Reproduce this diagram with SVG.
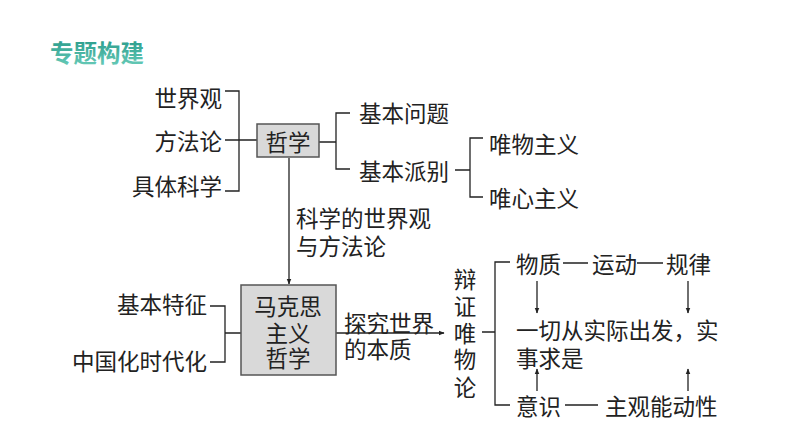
<svg xmlns="http://www.w3.org/2000/svg" width="794" height="447" viewBox="0 0 794 447">
<defs>
<linearGradient id="tg" x1="0" y1="0" x2="0" y2="1">
<stop offset="0" stop-color="#1f9484"/>
<stop offset="1" stop-color="#6fd0bd"/>
</linearGradient>
<marker id="ah" viewBox="0 0 10 10" refX="9" refY="5" markerWidth="6" markerHeight="6" orient="auto" markerUnits="userSpaceOnUse">
<path d="M0,1 L10,5 L0,9 z" fill="#222"/>
</marker>
</defs>
<style>
text{font-family:"Noto Sans CJK SC","Noto Sans",sans-serif;font-size:22.5px;fill:#222;dominant-baseline:central}
.r{text-anchor:end}
.m{text-anchor:middle}
.ln{stroke:#222;stroke-width:1.3;fill:none}
.box{fill:#d9d9d9;stroke:#555;stroke-width:1.5}
.title{font-size:23.5px;font-weight:bold;fill:url(#tg)}
</style>
<rect width="794" height="447" fill="#fff"/>
<text class="title" x="50" y="52">专题构建</text>

<g id="connectors">
<path class="ln" d="M225,91 H239 V191 H225 M225,140 H257"/>
<path class="ln" d="M319,142 H336 M350,113 H336 V169 H350"/>
<path class="ln" d="M455,170 H470 M483,138 H470 V197 H483"/>
<path class="ln" d="M289,158 V284" marker-end="url(#ah)"/>
<path class="ln" d="M210,306 H225 V362 H210 M225,333 H241"/>
<path class="ln" d="M336,333 H444" marker-end="url(#ah)"/>
<path class="ln" d="M482,332 H495 M510,262 H495 V405 H510"/>
<path class="ln" d="M563,263 H588 M637,263 H663 M565,405 H598" stroke="#444"/>
<path class="ln" d="M537,281 V313" marker-end="url(#ah)"/>
<path class="ln" d="M688,281 V313" marker-end="url(#ah)"/>
<path class="ln" d="M537,391 V369" marker-end="url(#ah)"/>
<path class="ln" d="M688,391 V369" marker-end="url(#ah)"/>
</g>

<g id="n-shijieguan"><text class="r" x="222" y="97">世界观</text></g>
<g id="n-fangfalun"><text class="r" x="222" y="140">方法论</text></g>
<g id="n-jutikexue"><text class="r" x="222" y="185">具体科学</text></g>

<g id="n-zhexue">
<rect class="box" x="257" y="124" width="62" height="33"/>
<text class="m" x="288" y="141">哲学</text>
</g>

<g id="n-jibenwenti"><text x="359" y="112">基本问题</text></g>
<g id="n-jibenpaibie"><text x="359" y="170">基本派别</text></g>
<g id="n-weiwu"><text x="489" y="143">唯物主义</text></g>
<g id="n-weixin"><text x="489" y="197">唯心主义</text></g>

<g id="l-kexue">
<text x="296" y="217">科学的世界观</text>
<text x="296" y="245">与方法论</text>
</g>

<g id="n-makesi">
<rect class="box" x="241" y="285" width="95" height="90"/>
<text class="m" x="288" y="305">马克思</text>
<text class="m" x="288" y="332">主义</text>
<text class="m" x="288" y="357">哲学</text>
</g>

<g id="n-jibentezheng"><text class="r" x="207" y="303">基本特征</text></g>
<g id="n-zhongguohua"><text class="r" x="207" y="360">中国化时代化</text></g>

<g id="l-tanjiu">
<text x="344" y="322">探究世界</text>
<text x="344" y="348">的本质</text>
</g>

<g id="n-bianzheng">
<text class="m" x="465" y="278">辩</text>
<text class="m" x="465" y="305">证</text>
<text class="m" x="465" y="332">唯</text>
<text class="m" x="465" y="358">物</text>
<text class="m" x="465" y="386">论</text>
</g>

<g id="n-wuzhi"><text x="516" y="263">物质</text></g>
<g id="n-yundong"><text x="592" y="263">运动</text></g>
<g id="n-guilv"><text x="666" y="263">规律</text></g>
<g id="n-yiqie">
<text x="516" y="329">一切从实际出发，实</text>
<text x="516" y="357">事求是</text>
</g>
<g id="n-yishi"><text x="516" y="405">意识</text></g>
<g id="n-zhuguan"><text x="605" y="405">主观能动性</text></g>
</svg>
